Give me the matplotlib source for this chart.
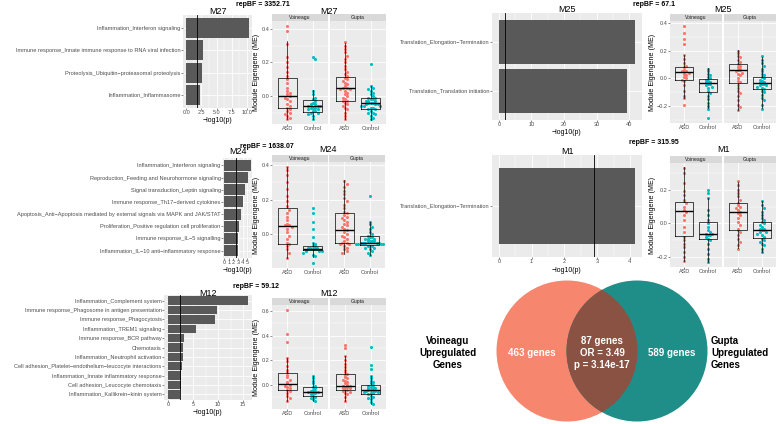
import matplotlib
matplotlib.use("Agg")
import matplotlib.pyplot as plt
from matplotlib.patches import Circle
from matplotlib.ticker import FixedLocator, MultipleLocator, FuncFormatter

plt.rcParams['font.family'] = ['Liberation Sans', 'DejaVu Sans']

W, H = 777, 424
ASD_COL = '#F8766D'
CTRL_COL = '#00BFC4'
PANEL_BG = '#EBEBEB'
TICK_COL = '#4D4D4D'

facets = ["Voineagu", "Gupta"]
groups = ["ASD", "Control"]

# ---- pathway enrichment, -log10(p) ----
m27_terms = ["Inflammation_Interferon signaling",
             "Immune response_Innate immune response to RNA viral infection",
             "Proteolysis_Ubiquitin−proteasomal proteolysis",
             "Inflammation_Inflammasome"]
m27_logp = [10.3, 2.75, 2.6, 2.2]
m27_cut = 1.8
m27_ticks = [0, 2.5, 5, 7.5, 10]

m24_terms = ["Inflammation_Interferon signaling",
             "Reproduction_Feeding and Neurohormone signaling",
             "Signal transduction_Leptin signaling",
             "Immune response_Th17−derived cytokines",
             "Apoptosis_Anti−Apoptosis mediated by external signals via MAPK and JAK/STAT",
             "Proliferation_Positive regulation cell proliferation",
             "Immune response_IL−5 signalling",
             "Inflammation_IL−10 anti−inflammatory response"]
m24_logp = [5.75, 5.25, 4.5, 4.15, 3.65, 3.3, 3.05, 2.95]
m24_cut = 2.55
m24_ticks = [0, 1, 2, 3, 4, 5]

m12_terms = ["Inflammation_Complement system",
             "Immune response_Phagosome in antigen presentation",
             "Immune response_Phagocytosis",
             "Inflammation_TREM1 signaling",
             "Immune response_BCR pathway",
             "Chemotaxis",
             "Inflammation_Neutrophil activation",
             "Cell adhesion_Platelet−endothelium−leucocyte interactions",
             "Inflammation_Innate inflammatory response",
             "Cell adhesion_Leucocyte chemotaxis",
             "Inflammation_Kallikrein−kinin system"]
m12_logp = [16.0, 9.7, 9.3, 5.55, 3.1, 2.9, 2.9, 2.8, 2.65, 2.6, 2.45]
m12_cut = 2.35
m12_ticks = [0, 5, 10, 15]

m25_terms = ["Translation_Elongation−Termination",
             "Translation_Translation initiation"]
m25_logp = [41.8, 39.3]
m25_cut = 1.8
m25_ticks = [0, 10, 20, 30, 40]

m1_terms = ["Translation_Elongation−Termination"]
m1_logp = [4.16]
m1_cut = 2.89
m1_ticks = [0, 1, 2, 3, 4]

m27_repbf = 3352.71
m24_repbf = 1638.07
m12_repbf = 59.12
m25_repbf = 67.1
m1_repbf = 315.95

# ---- module eigengenes: box stats (whislo, q1, med, q3, whishi) ----
# order: Voineagu ASD, Voineagu Control, Gupta ASD, Gupta Control
m27_box = [(-0.14, -0.072, -0.002, 0.107, 0.33), (-0.14, -0.095, -0.062, -0.023, 0.035),
           (-0.14, -0.031, 0.045, 0.111, 0.318), (-0.145, -0.078, -0.043, -0.01, 0.06)]
m27_v_asd = [0.42, 0.39, 0.31, 0.23, 0.20, 0.17, 0.14, 0.12, 0.10, 0.08, 0.05, 0.03, 0.02, 0.01,
             0.0, -0.01, -0.02, -0.03, -0.05, -0.06, -0.07, -0.08, -0.09, -0.10, -0.11, -0.12, -0.13, -0.14]
m27_v_ctrl = [0.23, 0.22, 0.03, 0.01, -0.01, -0.02, -0.03, -0.04, -0.05, -0.05, -0.06, -0.06, -0.06,
              -0.07, -0.07, -0.07, -0.08, -0.08, -0.09, -0.09, -0.10, -0.10, -0.11, -0.12, -0.14]
m27_g_asd = [0.32, 0.30, 0.28, 0.26, 0.24, 0.22, 0.20, 0.18, 0.16, 0.14, 0.13, 0.12, 0.11, 0.10, 0.09,
             0.08, 0.07, 0.06, 0.05, 0.05, 0.04, 0.04, 0.03, 0.02, 0.01, 0.00, -0.01, -0.02, -0.03, -0.03,
             -0.04, -0.05, -0.06, -0.07, -0.08, -0.10, -0.12, -0.14]
m27_g_ctrl = [0.19, 0.06, 0.05, 0.04, 0.03, 0.02, 0.01, 0.0, -0.01, -0.01, -0.02, -0.02, -0.03, -0.03,
              -0.03, -0.04, -0.04, -0.04, -0.05, -0.05, -0.05, -0.06, -0.06, -0.06, -0.07, -0.07, -0.08,
              -0.08, -0.09, -0.10, -0.10, -0.11, -0.12, -0.13, -0.14]

m24_box = [(-0.14, -0.058, 0.046, 0.152, 0.388), (-0.134, -0.094, -0.088, -0.068, -0.054),
           (-0.114, -0.054, 0.024, 0.122, 0.314), (-0.124, -0.064, -0.05, -0.014, 0.07)]
m24_v_asd = [0.39, 0.37, 0.34, 0.30, 0.26, 0.22, 0.19, 0.16, 0.14, 0.12, 0.10, 0.08, 0.06, 0.05, 0.05,
             0.04, 0.03, 0.01, -0.01, -0.03, -0.05, -0.06, -0.07, -0.09, -0.11, -0.14]
m24_v_ctrl = [0.15, 0.12, 0.07, 0.03, -0.02, -0.05, -0.06, -0.07, -0.07, -0.08, -0.08, -0.08, -0.09,
              -0.09, -0.09, -0.09, -0.09, -0.10, -0.10, -0.10, -0.11, -0.12, -0.13, -0.17]
m24_g_asd = [0.31, 0.29, 0.27, 0.25, 0.23, 0.21, 0.19, 0.17, 0.15, 0.13, 0.12, 0.11, 0.10, 0.09, 0.08,
             0.07, 0.06, 0.05, 0.04, 0.03, 0.02, 0.01, 0.0, -0.01, -0.02, -0.03, -0.04, -0.05, -0.05,
             -0.06, -0.06, -0.07, -0.08, -0.09, -0.10, -0.11]
m24_g_ctrl = [0.22, 0.07, 0.06, 0.04, 0.03, 0.01, 0.0, -0.01, -0.02, -0.02, -0.03, -0.03, -0.03, -0.04,
              -0.04, -0.04, -0.04, -0.05, -0.05, -0.05, -0.05, -0.05, -0.06, -0.06, -0.06, -0.06, -0.07,
              -0.07, -0.07, -0.08, -0.08, -0.09, -0.10, -0.11, -0.12]

m12_box = [(-0.13, -0.043, 0.005, 0.092, 0.22), (-0.13, -0.09, -0.06, -0.02, 0.07),
           (-0.13, -0.043, -0.008, 0.087, 0.23), (-0.16, -0.076, -0.04, -0.003, 0.07)]
m12_v_asd = [0.61, 0.41, 0.35, 0.22, 0.19, 0.15, 0.12, 0.10, 0.08, 0.06, 0.04, 0.02, 0.01, 0.0, -0.01,
             -0.02, -0.03, -0.04, -0.05, -0.07, -0.09, -0.11, -0.13]
m12_v_ctrl = [0.07, 0.05, 0.03, 0.01, -0.01, -0.02, -0.03, -0.04, -0.05, -0.05, -0.06, -0.06, -0.07,
              -0.07, -0.08, -0.09, -0.10, -0.11, -0.12, -0.13]
m12_g_asd = [0.32, 0.30, 0.23, 0.20, 0.17, 0.14, 0.12, 0.10, 0.09, 0.08, 0.06, 0.05, 0.04, 0.03, 0.02,
             0.01, 0.0, -0.01, -0.01, -0.02, -0.02, -0.03, -0.03, -0.04, -0.04, -0.05, -0.06, -0.07,
             -0.08, -0.10, -0.13]
m12_g_ctrl = [0.31, 0.16, 0.13, 0.07, 0.05, 0.03, 0.02, 0.01, 0.0, -0.01, -0.02, -0.02, -0.03, -0.03,
              -0.04, -0.04, -0.04, -0.05, -0.05, -0.06, -0.06, -0.07, -0.07, -0.08, -0.09, -0.10, -0.11,
              -0.12, -0.14, -0.16]

m25_box = [(-0.144, -0.012, 0.048, 0.084, 0.17), (-0.216, -0.103, -0.031, -0.007, 0.072),
           (-0.228, -0.031, 0.058, 0.1, 0.204), (-0.216, -0.079, -0.034, 0.012, 0.156)]
m25_v_asd = [0.38, 0.33, 0.28, 0.25, 0.17, 0.14, 0.11, 0.09, 0.08, 0.06, 0.05, 0.05, 0.04, 0.03, 0.02,
             0.01, 0.0, -0.01, -0.02, -0.05, -0.09, -0.13, -0.14, -0.19]
m25_v_ctrl = [0.07, 0.05, 0.03, 0.02, 0.01, 0.0, -0.01, -0.02, -0.03, -0.03, -0.04, -0.04, -0.05,
              -0.06, -0.07, -0.09, -0.11, -0.13, -0.15, -0.18, -0.20, -0.22, -0.29]
m25_g_asd = [0.20, 0.18, 0.16, 0.15, 0.13, 0.12, 0.10, 0.09, 0.08, 0.07, 0.06, 0.06, 0.05, 0.04, 0.03,
             0.02, 0.0, -0.02, -0.03, -0.05, -0.07, -0.09, -0.11, -0.13, -0.16, -0.19, -0.21, -0.23]
m25_g_ctrl = [0.16, 0.13, 0.11, 0.09, 0.07, 0.05, 0.03, 0.02, 0.01, 0.0, -0.01, -0.02, -0.03, -0.03,
              -0.04, -0.04, -0.05, -0.05, -0.06, -0.07, -0.08, -0.09, -0.10, -0.12, -0.14, -0.16, -0.19,
              -0.22]

m1_box = [(-0.222, -0.077, 0.075, 0.127, 0.333), (-0.228, -0.095, -0.061, 0.006, 0.15),
          (-0.147, -0.036, 0.067, 0.121, 0.248), (-0.172, -0.087, -0.036, 0.006, 0.131)]
m1_v_asd = [0.33, 0.30, 0.24, 0.19, 0.17, 0.14, 0.13, 0.12, 0.10, 0.08, 0.07, 0.05, 0.02, -0.02, -0.05,
            -0.08, -0.10, -0.12, -0.14, -0.17, -0.20, -0.22]
m1_v_ctrl = [0.20, 0.18, 0.15, 0.08, 0.05, 0.02, 0.0, -0.02, -0.04, -0.05, -0.06, -0.06, -0.07, -0.07,
             -0.08, -0.09, -0.10, -0.12, -0.15, -0.18, -0.21, -0.23]
m1_g_asd = [0.25, 0.23, 0.20, 0.18, 0.16, 0.14, 0.12, 0.11, 0.10, 0.09, 0.08, 0.07, 0.06, 0.05, 0.03,
            0.01, -0.01, -0.03, -0.04, -0.05, -0.07, -0.09, -0.11, -0.13, -0.15]
m1_g_ctrl = [0.13, 0.11, 0.09, 0.07, 0.05, 0.03, 0.02, 0.01, 0.0, -0.01, -0.02, -0.03, -0.03, -0.04,
             -0.04, -0.05, -0.05, -0.06, -0.07, -0.08, -0.09, -0.10, -0.11, -0.12, -0.13, -0.15, -0.17]

# ---- Venn of upregulated genes ----
venn_counts = [463, 87, 589]
venn_or = 3.49
venn_p = "3.14e-17"
venn_sets = ["Voineagu\nUpregulated\nGenes", "Gupta\nUpregulated\nGenes"]

fig = plt.figure(figsize=(W / 100, H / 100), dpi=100)


def px_axes(x0, y0, x1, y1):
    return fig.add_axes([x0 / W, 1 - y1 / H, (x1 - x0) / W, (y1 - y0) / H])


def gg(ax):
    ax.set_facecolor(PANEL_BG)
    for s in ax.spines.values():
        s.set_visible(False)
    ax.set_axisbelow(True)
    ax.grid(True, which='major', color='white', lw=0.6)
    ax.grid(True, which='minor', color='white', lw=0.3)
    ax.tick_params(which='major', length=1.2, width=0.4, color='#333333',
                   labelsize=4, labelcolor=TICK_COL, pad=0.5)
    ax.tick_params(which='minor', length=0)


def bar_panel(rect, terms, logp, cut, ticks, fmt, title, title_y, xlab_y):
    x0, y0, x1, y1 = rect
    ax = px_axes(*rect)
    gg(ax)
    n = len(terms)
    ypos = list(range(n - 1, -1, -1))
    ax.barh(ypos, logp, height=0.9, color='#595959', zorder=2)
    ax.axvline(cut, color='black', lw=0.6, zorder=3)
    xmax = max(logp)
    ax.set_xlim(-0.05 * xmax, 1.05 * xmax)
    ax.set_ylim(-0.6, n - 0.4)
    ax.set_yticks(ypos)
    ax.set_yticklabels(terms, fontsize=4.1)
    ax.set_xticks(ticks)
    ax.set_xticklabels([fmt % t for t in ticks])
    step = ticks[1] - ticks[0]
    ax.xaxis.set_minor_locator(FixedLocator([t + step / 2 for t in ticks] + [ticks[0] - step / 2]))
    fig.text((x0 + x1) / 2 / W, 1 - title_y / H, title, ha='center', va='center', fontsize=6.5)
    fig.text((x0 + x1) / 2 / W, 1 - xlab_y / H, '−log10(p)', ha='center', va='center', fontsize=5)


def swarm_x(vals, center, ybin, dx):
    xs = []
    counts = {}
    for v in vals:
        b = int(round(v / ybin))
        k = counts.get(b, 0)
        counts[b] = k + 1
        off = ((k + 1) // 2) * dx * (1 if k % 2 else -1)
        xs.append(center + off)
    return xs


def box_panel(rect, title, title_y, stats, pts, ylab_x):
    x0, y0, x1, y1 = rect
    strip_h = 7
    gap = 1.5
    mid = (x0 + x1) / 2
    allv = [v for g in pts for v in g]
    lo, hi = min(allv), max(allv)
    pad = 0.05 * (hi - lo)
    for f in range(2):
        fx0 = x0 if f == 0 else mid + gap / 2
        fx1 = mid - gap / 2 if f == 0 else x1
        ax = px_axes(fx0, y0 + strip_h, fx1, y1)
        gg(ax)
        for gi, col in enumerate([ASD_COL, CTRL_COL]):
            vals = pts[2 * f + gi]
            ax.scatter(swarm_x(vals, gi + 1, 0.025, 0.09), vals, s=5, color=col,
                       lw=0, zorder=2)
        bst = [dict(whislo=s[0], q1=s[1], med=s[2], q3=s[3], whishi=s[4])
               for s in stats[2 * f:2 * f + 2]]
        ax.bxp(bst, positions=[1, 2], widths=0.75, showfliers=False, showcaps=False,
               manage_ticks=False, zorder=3,
               boxprops=dict(color='black', lw=0.5),
               whiskerprops=dict(color='black', lw=0.5),
               medianprops=dict(color='black', lw=1.0))
        ax.set_xlim(0.4, 2.6)
        ax.set_ylim(lo - pad, hi + pad)
        ax.set_xticks([1, 2])
        ax.set_xticklabels(groups)
        ax.yaxis.set_major_locator(MultipleLocator(0.2))
        ax.yaxis.set_minor_locator(MultipleLocator(0.1))
        ax.yaxis.set_major_formatter(FuncFormatter(lambda v, _: f'{v:.1f}'.replace('-', '−')))
        if f == 1:
            ax.tick_params(axis='y', left=False, labelleft=False)
        sx = px_axes(fx0, y0, fx1, y0 + strip_h)
        sx.set_facecolor('#D9D9D9')
        sx.set_xticks([])
        sx.set_yticks([])
        for s in sx.spines.values():
            s.set_visible(False)
        sx.text(0.5, 0.5, facets[f], ha='center', va='center', fontsize=3.6,
                color='#1A1A1A', transform=sx.transAxes)
    fig.text((x0 + x1) / 2 / W, 1 - title_y / H, title, ha='center', va='center', fontsize=6.5)
    fig.text(ylab_x / W, 1 - (y0 + strip_h + y1) / 2 / H, 'Module Eigengene (ME)',
             rotation=90, ha='center', va='center', fontsize=5.1)


def repbf_text(x, y, val):
    fig.text(x / W, 1 - y / H, f'repBF = {val:g}', ha='left', va='center',
             fontsize=5, weight='bold')


# left column
bar_panel((183, 15, 252, 108), m27_terms, m27_logp, m27_cut, m27_ticks, '%.1f', 'M27', 11, 120)
box_panel((272, 14, 386, 124), 'M27', 11, m27_box,
          [m27_v_asd, m27_v_ctrl, m27_g_asd, m27_g_ctrl], 257)
repbf_text(236, 5, m27_repbf)

bar_panel((223, 158, 252, 258), m24_terms, m24_logp, m24_cut, m24_ticks, '%g', 'M24', 152, 270)
box_panel((272, 155, 385, 268), 'M24', 150, m24_box,
          [m24_v_asd, m24_v_ctrl, m24_g_asd, m24_g_ctrl], 257)
repbf_text(240, 146, m24_repbf)

bar_panel((164, 295, 252, 400), m12_terms, m12_logp, m12_cut, m12_ticks, '%g', 'M12', 293, 412)
box_panel((272, 298, 386, 409), 'M12', 294, m12_box,
          [m12_v_asd, m12_v_ctrl, m12_g_asd, m12_g_ctrl], 257)
repbf_text(233, 286, m12_repbf)

# right column
bar_panel((492, 13, 642, 120), m25_terms, m25_logp, m25_cut, m25_ticks, '%g', 'M25', 10, 132)
box_panel((670, 14, 776, 123), 'M25', 10, m25_box,
          [m25_v_asd, m25_v_ctrl, m25_g_asd, m25_g_ctrl], 652)
repbf_text(633, 5, m25_repbf)

bar_panel((492, 155, 642, 257), m1_terms, m1_logp, m1_cut, m1_ticks, '%g', 'M1', 151, 270)
box_panel((670, 156, 776, 267), 'M1', 150, m1_box,
          [m1_v_asd, m1_v_ctrl, m1_g_asd, m1_g_ctrl], 652)
repbf_text(629, 143, m1_repbf)

# Venn diagram, axes in pixel units
vx = px_axes(400, 275, 777, 424)
vx.set_xlim(400, 777)
vx.set_ylim(424, 275)
vx.axis('off')
left = Circle((567, 351), 70.5, fc='#F7866F', ec='none')
right = Circle((637, 351), 70.5, fc='#1F8E88', ec='none')
vx.add_patch(left)
vx.add_patch(right)
both = Circle((637, 351), 70.5, fc='#8A5243', ec='none')
vx.add_patch(both)
both.set_clip_path(left)
wtxt = dict(ha='center', va='center', fontsize=7, weight='bold', color='white')
vx.text(532, 353, f'{venn_counts[0]} genes', **wtxt)
vx.text(602, 353, f'{venn_counts[1]} genes\nOR = {venn_or}\np = {venn_p}', linespacing=1.25, **wtxt)
vx.text(672, 353, f'{venn_counts[2]} genes', **wtxt)
vx.text(448, 353, venn_sets[0], ha='center', va='center', fontsize=7, weight='bold',
        linespacing=1.25, clip_on=False)
vx.text(711, 353, venn_sets[1], ha='left', va='center', fontsize=7, weight='bold',
        linespacing=1.25, clip_on=False)

fig.savefig('out.png', dpi=100)
